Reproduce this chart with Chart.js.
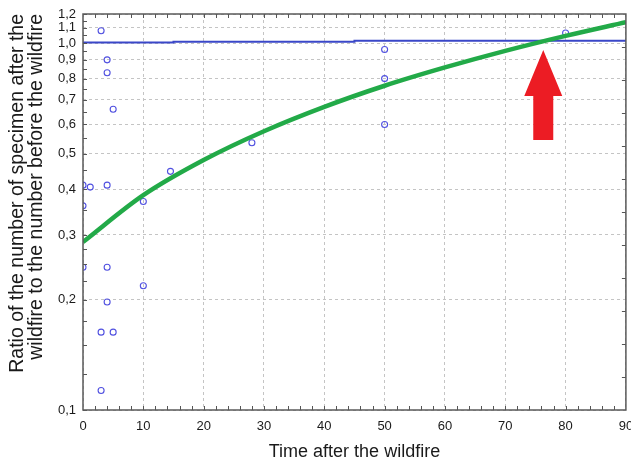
<!DOCTYPE html>
<html>
<head>
<meta charset="utf-8">
<script src="https://cdn.jsdelivr.net/npm/chart.js@4.4.1/dist/chart.umd.min.js"></script>
<style>
  html, body { margin: 0; padding: 0; background: #fff; }
  #wrap { width: 631px; height: 463px; }
</style>
</head>
<body>
<div id="wrap"><canvas id="chart"></canvas></div>
<script>
// observed samples (time after wildfire, ratio after/before)
const sampleX = [0, 0, 0, 1.2, 3, 3, 3, 4, 4, 4, 4, 4, 5, 5, 10, 10, 14.5, 28, 50, 50, 50, 80];
const sampleY = [0.41, 0.36, 0.245, 0.405, 1.08, 0.163, 0.113, 0.90, 0.83, 0.41, 0.245, 0.197,
                 0.66, 0.163, 0.37, 0.218, 0.447, 0.535, 0.96, 0.80, 0.60, 1.065];

// fitted curve
const fitX = [0, 10, 20, 30, 40, 50, 60, 70, 80, 90];
const fitY = [0.287, 0.385, 0.48, 0.575, 0.67, 0.765, 0.858, 0.952, 1.046, 1.14];

// reference level (ratio = 1)
const levelX = [0, 15, 15, 45, 45, 90];
const levelY = [1.004, 1.004, 1.009, 1.009, 1.014, 1.014];

// tick labels
const yTicks = [0.1, 0.2, 0.3, 0.4, 0.5, 0.6, 0.7, 0.8, 0.9, 1.0, 1.1, 1.2];
const yMinor = [0.125, 0.15, 0.175, 0.225, 0.25, 0.275, 0.35, 0.45, 0.55, 0.65, 0.75, 0.85, 0.95, 1.05, 1.15];
const xTicks = [0, 10, 20, 30, 40, 50, 60, 70, 80, 90];

// arrow tip where the curve reaches 1
const arrowTipX = 76.3;
const arrowTipY = 0.958;

const FONT = "Liberation Sans, Arial, sans-serif";
const toPts = (xs, ys) => xs.map((x, i) => ({ x: x, y: ys[i] }));

// frame, inward ticks and red arrow
const framePlugin = {
  id: "frame",
  afterDatasetsDraw(chart) {
    const ctx = chart.ctx;
    const a = chart.chartArea;
    const xs = chart.scales.x;
    const ys = chart.scales.y;
    ctx.save();

    // arrow
    const tx = xs.getPixelForValue(arrowTipX);
    const ty = ys.getPixelForValue(arrowTipY);
    ctx.fillStyle = "#ec1c24";
    ctx.beginPath();
    ctx.moveTo(tx, ty);
    ctx.lineTo(tx + 19, ty + 46);
    ctx.lineTo(tx + 10, ty + 46);
    ctx.lineTo(tx + 10, ty + 90);
    ctx.lineTo(tx - 10, ty + 90);
    ctx.lineTo(tx - 10, ty + 46);
    ctx.lineTo(tx - 19, ty + 46);
    ctx.closePath();
    ctx.fill();

    ctx.strokeStyle = "#555";
    ctx.lineWidth = 1;
    ctx.beginPath();
    // top / bottom ticks every 2 units
    for (let v = 2; v < 90; v += 2) {
      const px = Math.round(xs.getPixelForValue(v)) + 0.5;
      ctx.moveTo(px, a.top); ctx.lineTo(px, a.top + 4);
      ctx.moveTo(px, a.bottom); ctx.lineTo(px, a.bottom - 4);
    }
    // left ticks
    yTicks.concat(yMinor).forEach((v) => {
      const py = Math.round(ys.getPixelForValue(v)) + 0.5;
      ctx.moveTo(a.left, py); ctx.lineTo(a.left + 4, py);
    });
    // right ticks, evenly spaced
    for (let i = 1; i < 12; i++) {
      const py = Math.round(a.top + (a.bottom - a.top) * i / 12) + 0.5;
      ctx.moveTo(a.right, py); ctx.lineTo(a.right - 4, py);
    }
    ctx.stroke();

    ctx.strokeStyle = "#5a5a5a";
    ctx.lineWidth = 1.5;
    ctx.strokeRect(a.left, a.top, a.right - a.left, a.bottom - a.top);
    ctx.restore();
  },
};

const ctx = document.getElementById("chart").getContext("2d");
new Chart(ctx, {
  type: "scatter",
  data: {
    datasets: [
      {
        label: "level",
        type: "line",
        data: toPts(levelX, levelY),
        borderColor: "#3a47c8",
        borderWidth: 2,
        pointRadius: 0,
        fill: false,
        clip: 0,
        order: 3,
      },
      {
        label: "samples",
        data: toPts(sampleX, sampleY),
        pointStyle: "circle",
        pointRadius: 3,
        pointBorderWidth: 1.1,
        borderColor: "#5050e0",
        backgroundColor: "rgba(255,255,255,0)",
        clip: 0,
        order: 2,
      },
      {
        label: "fit",
        type: "line",
        data: toPts(fitX, fitY),
        borderColor: "#22aa48",
        borderWidth: 4.5,
        pointRadius: 0,
        cubicInterpolationMode: "monotone",
        fill: false,
        clip: 0,
        order: 1,
      },
    ],
  },
  options: {
    responsive: true,
    maintainAspectRatio: false,
    animation: false,
    layout: { padding: { top: 14, right: 3, left: 0, bottom: 0 } },
    plugins: {
      legend: { display: false },
      tooltip: { enabled: false },
    },
    scales: {
      x: {
        type: "linear",
        min: 0,
        max: 90,
        afterBuildTicks: (s) => { s.ticks = xTicks.map((v) => ({ value: v })); },
        afterFit: (s) => { s.height = 53; s.paddingLeft = 0; s.paddingRight = 0; },
        border: { display: false, dash: [3, 3] },
        grid: { color: "#c4c4c4", drawTicks: false },
        ticks: {
          padding: 9,
          color: "#1a1a1a",
          font: { family: FONT, size: 13 },
        },
        title: {
          display: true,
          text: "Time after the wildfire",
          color: "#1a1a1a",
          font: { family: FONT, size: 18, lineHeight: 1.1 },
          padding: { top: 0, bottom: 1 },
        },
      },
      y: {
        type: "logarithmic",
        min: 0.1,
        max: 1.2,
        afterBuildTicks: (s) => { s.ticks = yTicks.map((v) => ({ value: v })); },
        afterFit: (s) => { s.width = 83; s.paddingTop = 0; s.paddingBottom = 0; },
        border: { display: false, dash: [3, 3] },
        grid: { color: "#c4c4c4", drawTicks: false },
        ticks: {
          padding: 7,
          color: "#1a1a1a",
          font: { family: FONT, size: 13 },
          callback: (v) => Number(v).toFixed(1).replace(".", ","),
        },
        title: {
          display: true,
          align: "end",
          text: ["Ratio of the number of specimen after the", "wildfire to the number before the wildfire"],
          color: "#1a1a1a",
          font: { family: FONT, size: 19.5, lineHeight: 0.98 },
          padding: { top: 8, bottom: 0 },
        },
      },
    },
  },
  plugins: [framePlugin],
});
</script>
</body>
</html>
